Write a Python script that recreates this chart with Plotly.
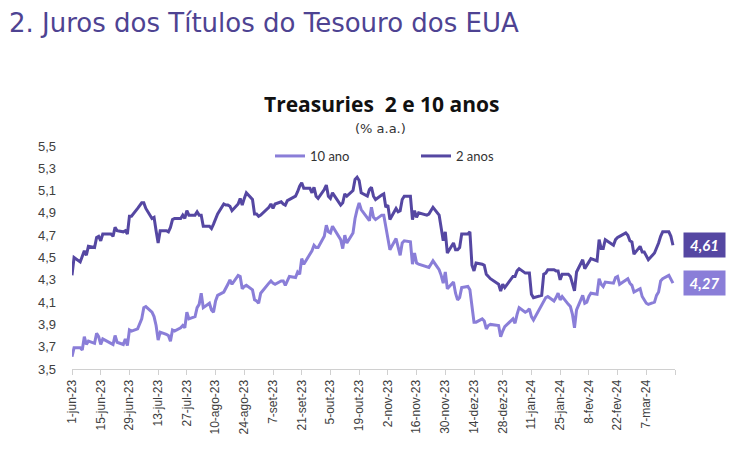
import plotly.graph_objects as go

# ---------------- data ----------------
dates = [
    "2023-06-01","2023-06-02","2023-06-05","2023-06-06","2023-06-07","2023-06-08","2023-06-09",
    "2023-06-12","2023-06-13","2023-06-14","2023-06-15","2023-06-16","2023-06-20","2023-06-21",
    "2023-06-22","2023-06-23","2023-06-26","2023-06-27","2023-06-28","2023-06-29","2023-06-30",
    "2023-07-03","2023-07-05","2023-07-06","2023-07-07","2023-07-10","2023-07-11","2023-07-12",
    "2023-07-13","2023-07-14","2023-07-17","2023-07-18","2023-07-19","2023-07-20","2023-07-21",
    "2023-07-24","2023-07-25","2023-07-26","2023-07-27","2023-07-28","2023-07-31",
    "2023-08-01","2023-08-02","2023-08-03","2023-08-04","2023-08-07","2023-08-08","2023-08-09",
    "2023-08-10","2023-08-11","2023-08-14","2023-08-15","2023-08-16","2023-08-17","2023-08-18",
    "2023-08-21","2023-08-22","2023-08-23","2023-08-24","2023-08-25","2023-08-28","2023-08-29",
    "2023-08-30","2023-08-31",
    "2023-09-01","2023-09-05","2023-09-06","2023-09-07","2023-09-08","2023-09-11","2023-09-12",
    "2023-09-13","2023-09-14","2023-09-15","2023-09-18","2023-09-19","2023-09-20","2023-09-21",
    "2023-09-22","2023-09-25","2023-09-26","2023-09-27","2023-09-28","2023-09-29",
    "2023-10-02","2023-10-03","2023-10-04","2023-10-05","2023-10-06","2023-10-10","2023-10-11",
    "2023-10-12","2023-10-13","2023-10-16","2023-10-17","2023-10-18","2023-10-19","2023-10-20",
    "2023-10-23","2023-10-24","2023-10-25","2023-10-26","2023-10-27","2023-10-30","2023-10-31",
    "2023-11-01","2023-11-02","2023-11-03","2023-11-06","2023-11-07","2023-11-08","2023-11-09",
    "2023-11-10","2023-11-13","2023-11-14","2023-11-15","2023-11-16","2023-11-17","2023-11-20",
    "2023-11-21","2023-11-22","2023-11-24","2023-11-27","2023-11-28","2023-11-29","2023-11-30",
    "2023-12-01","2023-12-04","2023-12-05","2023-12-06","2023-12-07","2023-12-08","2023-12-11",
    "2023-12-12","2023-12-13","2023-12-14","2023-12-15","2023-12-18","2023-12-19","2023-12-20",
    "2023-12-21","2023-12-22","2023-12-26","2023-12-27","2023-12-28","2023-12-29",
    "2024-01-02","2024-01-03","2024-01-04","2024-01-05","2024-01-08","2024-01-09","2024-01-10",
    "2024-01-11","2024-01-12","2024-01-16","2024-01-17","2024-01-18","2024-01-19","2024-01-22",
    "2024-01-23","2024-01-24","2024-01-25","2024-01-26","2024-01-29","2024-01-30","2024-01-31",
    "2024-02-01","2024-02-02","2024-02-05","2024-02-06","2024-02-07","2024-02-08","2024-02-09",
    "2024-02-12","2024-02-13","2024-02-14","2024-02-15","2024-02-16","2024-02-20","2024-02-21",
    "2024-02-22","2024-02-23","2024-02-26","2024-02-27","2024-02-28","2024-02-29",
    "2024-03-01","2024-03-04","2024-03-05","2024-03-06","2024-03-07","2024-03-08","2024-03-11",
    "2024-03-12","2024-03-13","2024-03-14","2024-03-15","2024-03-18","2024-03-19","2024-03-20",
]

y2 = [
    4.34,4.50,4.46,4.52,4.56,4.52,4.60,
    4.59,4.68,4.69,4.65,4.71,4.71,4.69,
    4.77,4.74,4.73,4.74,4.71,4.87,4.87,
    4.94,4.99,4.99,4.94,4.85,4.86,4.74,
    4.63,4.74,4.74,4.73,4.77,4.84,4.85,
    4.85,4.88,4.85,4.92,4.88,4.88,
    4.91,4.88,4.88,4.78,4.78,4.76,4.80,
    4.84,4.89,4.98,4.97,4.97,4.96,4.92,
    4.98,5.03,4.97,5.03,5.08,5.02,4.89,
    4.89,4.87,
    4.88,4.95,4.98,4.94,4.98,5.00,4.98,
    4.97,5.01,5.02,5.05,5.09,5.14,5.17,
    5.12,5.12,5.08,5.13,5.05,5.03,
    5.11,5.15,5.05,5.03,5.08,4.97,4.99,
    5.07,5.05,5.10,5.20,5.22,5.19,5.08,
    5.05,5.11,5.13,5.05,5.02,5.06,5.07,
    4.95,4.97,4.84,4.94,4.91,4.92,5.02,
    5.05,5.05,4.84,4.92,4.86,4.90,4.89,
    4.88,4.89,4.95,4.88,4.74,4.65,4.73,
    4.54,4.63,4.57,4.57,4.59,4.71,4.71,
    4.73,4.43,4.38,4.45,4.44,4.43,4.35,
    4.33,4.31,4.26,4.20,4.26,4.23,
    4.33,4.33,4.38,4.40,4.36,4.36,4.36,
    4.17,4.14,4.16,4.35,4.36,4.39,4.39,
    4.38,4.38,4.30,4.35,4.35,4.33,4.27,
    4.20,4.37,4.48,4.40,4.43,4.46,4.49,
    4.47,4.66,4.58,4.58,4.66,4.61,4.66,
    4.68,4.69,4.72,4.70,4.65,4.64,
    4.53,4.60,4.55,4.55,4.51,4.48,4.54,
    4.58,4.63,4.69,4.73,4.73,4.69,4.61,
]

y10 = [
    3.61,3.69,3.69,3.67,3.79,3.72,3.75,
    3.73,3.82,3.79,3.72,3.77,3.73,3.72,
    3.80,3.74,3.72,3.77,3.71,3.85,3.84,
    3.86,3.95,4.05,4.06,4.01,3.97,3.89,
    3.76,3.83,3.81,3.80,3.75,3.85,3.84,
    3.87,3.89,3.87,4.01,3.95,3.97,
    4.05,4.08,4.18,4.05,4.09,4.03,4.01,
    4.11,4.16,4.19,4.22,4.26,4.30,4.26,
    4.34,4.33,4.22,4.24,4.25,4.21,4.12,
    4.11,4.09,
    4.18,4.27,4.29,4.27,4.26,4.29,4.29,
    4.25,4.29,4.33,4.32,4.37,4.35,4.49,
    4.44,4.54,4.56,4.61,4.59,4.59,
    4.69,4.79,4.73,4.72,4.78,4.66,4.58,
    4.70,4.63,4.72,4.85,4.93,4.99,4.93,
    4.86,4.83,4.95,4.86,4.84,4.88,4.88,
    4.77,4.67,4.57,4.67,4.58,4.52,4.63,
    4.65,4.64,4.44,4.54,4.45,4.44,4.42,
    4.41,4.41,4.47,4.39,4.34,4.27,4.37,
    4.22,4.28,4.18,4.12,4.14,4.23,4.24,
    4.21,4.04,3.92,3.92,3.95,3.93,3.86,
    3.89,3.90,3.89,3.79,3.84,3.88,
    3.95,3.91,3.99,4.05,4.01,4.02,4.04,
    3.97,3.94,4.07,4.10,4.14,4.15,4.11,
    4.14,4.18,4.12,4.15,4.08,4.06,3.99,
    3.87,4.03,4.16,4.09,4.10,4.15,4.18,
    4.17,4.31,4.26,4.24,4.28,4.27,4.32,
    4.33,4.26,4.30,4.31,4.27,4.25,
    4.19,4.22,4.15,4.12,4.09,4.08,4.10,
    4.16,4.19,4.29,4.31,4.34,4.30,4.27,
]

tick_dates = ["2023-06-01","2023-06-15","2023-06-29","2023-07-13","2023-07-27","2023-08-10",
              "2023-08-24","2023-09-07","2023-09-21","2023-10-05","2023-10-19","2023-11-02",
              "2023-11-16","2023-11-30","2023-12-14","2023-12-28","2024-01-11","2024-01-25",
              "2024-02-08","2024-02-22","2024-03-07","2024-03-21"]
tick_labels = ["1-jun-23","15-jun-23","29-jun-23","13-jul-23","27-jul-23","10-ago-23",
               "24-ago-23","7-set-23","21-set-23","5-out-23","19-out-23","2-nov-23",
               "16-nov-23","30-nov-23","14-dez-23","28-dez-23","11-jan-24","25-jan-24",
               "8-fev-24","22-fev-24","7-mar-24",""]

y_ticks = [3.5, 3.7, 3.9, 4.1, 4.3, 4.5, 4.7, 4.9, 5.1, 5.3, 5.5]
y_tick_labels = [f"{v:.1f}".replace(".", ",") for v in y_ticks]

# ---------------- style ----------------
OFF = 8                     # page body margin offset
W, H = 744 - OFF, 466 - OFF
ML, MR, MT, MB = 72 - OFF, 69, 146 - OFF, 97
PW, PH = W - ML - MR, H - MT - MB
DARK = "#5547A2"
LIGHT = "#8A7ED8"
TITLE_C = "#4E4392"

def px_x(x):
    return (x - OFF - ML) / PW

def px_y(y):
    return (H - MB - (y - OFF)) / PH

fig = go.Figure()
fig.add_trace(go.Scatter(x=dates, y=y10, mode="lines", name="10 ano",
                         line=dict(color=LIGHT, width=3)))
fig.add_trace(go.Scatter(x=dates, y=y2, mode="lines", name="2 anos",
                         line=dict(color=DARK, width=3)))

fig.update_layout(
    width=W, height=H,
    margin=dict(l=ML, r=MR, t=MT, b=MB),
    paper_bgcolor="white", plot_bgcolor="white",
    title=dict(text="2. Juros dos Títulos do Tesouro dos EUA",
               xref="container", yref="container", x=(9 - OFF) / W, y=1 - (23 - OFF) / H,
               xanchor="left", yanchor="middle",
               font=dict(family="DejaVu Sans", size=26, color=TITLE_C)),
    showlegend=True,
    legend=dict(orientation="h", x=px_x(270), y=px_y(156), xanchor="left", yanchor="middle",
                font=dict(family="Lato", size=13, color="#333333"),
                entrywidthmode="pixels", entrywidth=101, bgcolor="rgba(0,0,0,0)"),
    xaxis=dict(type="date", range=["2023-06-01", "2024-03-21"],
               tickmode="array", tickvals=tick_dates, ticktext=tick_labels,
               tickangle=-90, ticks="outside", ticklen=5, tickcolor="#d0d0d0",
               showline=True, linecolor="#d0d0d0", linewidth=1,
               showgrid=False, zeroline=False,
               tickfont=dict(family="Liberation Sans, Arial", size=12, color="#404040")),
    yaxis=dict(range=[3.5, 5.5], tickmode="array", tickvals=y_ticks, ticktext=y_tick_labels,
               showgrid=False, zeroline=False, showline=False, ticks="",
               ticklabelstandoff=15,
               tickfont=dict(family="Liberation Sans, Arial", size=13, color="#404040")),
)

annotations = [
    dict(text="<b>Treasuries  2 e 10 anos</b>", xref="paper", yref="paper",
         x=px_x(381), y=px_y(104), xanchor="center", yanchor="middle", showarrow=False,
         font=dict(family="Open Sans", size=21, color="#111111")),
    dict(text="(% a.a.)", xref="paper", yref="paper",
         x=px_x(380), y=px_y(128), xanchor="center", yanchor="middle", showarrow=False,
         font=dict(family="DejaVu Sans", size=13, color="#333333")),
    dict(text="<b><i>" + f"{y2[-1]:.2f}".replace(".", ",") + "</i></b>",
         xref="paper", yref="y", x=1, y=y2[-1], xanchor="left", yanchor="middle",
         xshift=8, showarrow=False, bgcolor=DARK, width=39, height=22,
         font=dict(family="Lato", size=15, color="white")),
    dict(text="<b><i>" + f"{y10[-1]:.2f}".replace(".", ",") + "</i></b>",
         xref="paper", yref="y", x=1, y=y10[-1], xanchor="left", yanchor="middle",
         xshift=8, showarrow=False, bgcolor=LIGHT, width=39, height=22,
         font=dict(family="Lato", size=15, color="white")),
]
fig.update_layout(annotations=annotations)

fig.write_html("out.html")
